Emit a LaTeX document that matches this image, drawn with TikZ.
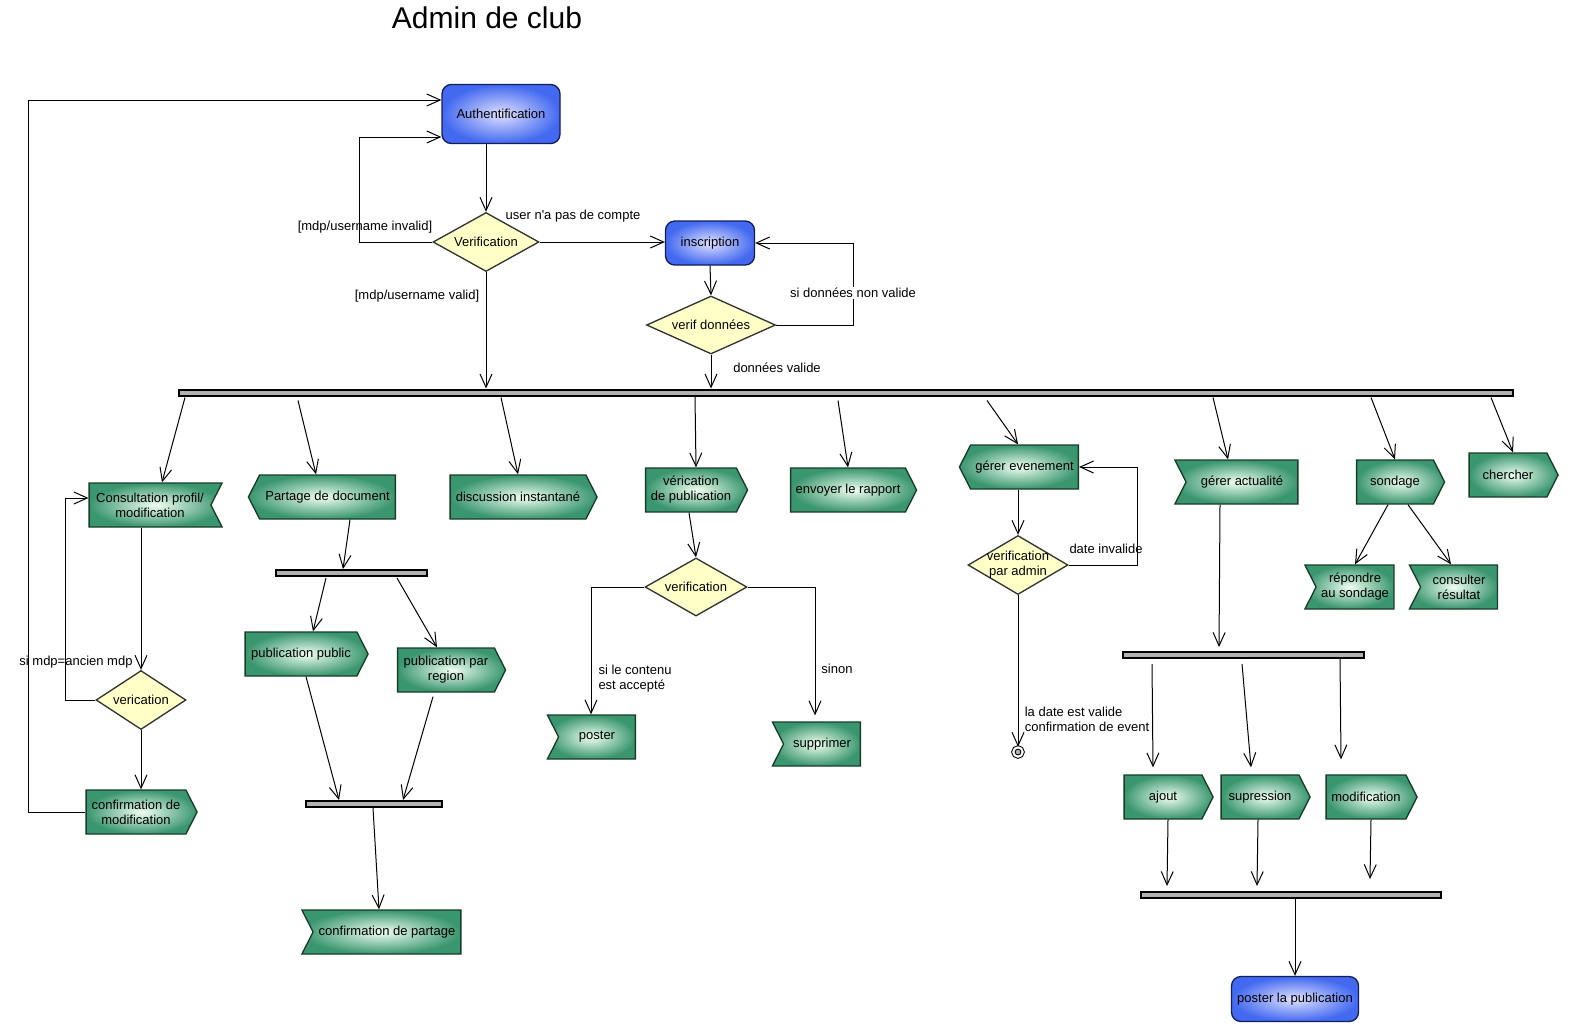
\documentclass[tikz,border=0pt]{standalone}
\usepackage{fontspec}
\setmainfont{Liberation Sans}
\usepackage{xcolor}
\usetikzlibrary{shapes.geometric,shapes.symbols,arrows.meta,calc}

\definecolor{actblue}{RGB}{66,105,240}
\definecolor{actnavy}{RGB}{20,30,90}
\definecolor{actgreen}{RGB}{58,150,110}
\definecolor{actdark}{RGB}{25,60,40}
\definecolor{decyellow}{RGB}{255,255,200}

\begin{document}
\begin{tikzpicture}[x=0.75pt, y=-0.75pt, line width=0.75pt, >={Straight Barb[length=10pt,width=9pt]},
    every node/.style={font=\fontsize{9.75}{11.25}\selectfont, align=center},
    startact/.style={rectangle, rounded corners=7pt, draw=actnavy, line width=1pt, inner color=blue!12, outer color=actblue},
    act/.style={signal, signal pointer angle=126, draw=actdark, line width=1pt, inner color=green!6!white, outer color=actgreen, minimum height=33pt, inner sep=2pt},
    sendsig/.style={act, signal to=east},
    recvsig/.style={act, signal to=nowhere, signal from=west},
    backsig/.style={act, signal to=west},
    notchsig/.style={act, signal to=nowhere, signal from=east},
    decision/.style={diamond, draw=black!80, line width=1pt, fill=decyellow, inner sep=0pt},
    forkbar/.style={rectangle, draw=black, line width=1.5pt, inner sep=0pt, minimum height=4.5pt, fill=gray!60},
    finalnode/.style={circle, draw=black, fill=gray!60, minimum size=7pt, inner sep=0pt, double=white, double distance=1.6pt},
    lbl/.style={inner sep=1pt}]
    \useasboundingbox (0,0) rectangle (1569,1033);

    \node[font=\fontsize{22.5}{27}\selectfont] (title) at (487,18) {Admin de club};

    \node[startact, minimum width=88.5pt, minimum height=44.25pt] (auth) at (501,114) {Authentification};
    \node[decision, shape aspect=1.8, minimum width=79.5pt, minimum height=44.25pt] (verif) at (486,242) {Verification};
    \node[startact, minimum width=66.75pt, minimum height=33pt] (inscr) at (710,243) {inscription};
    \node[decision, shape aspect=2.2, minimum width=96.75pt, minimum height=43.5pt] (verifdon) at (711,325) {verif données};
    \node[forkbar, minimum width=1000.5pt] (forkA) at (846,392.5) {};

    \node[notchsig, minimum width=99.75pt] (consult) at (150,505) {Consultation profil/\\modification};
    \node[backsig, minimum width=110.25pt] (partage) at (327.5,497) {Partage de document};
    \node[sendsig, minimum width=110.25pt] (discu) at (518,497) {discussion instantané};
    \node[sendsig, minimum width=76.5pt] (verpub) at (691,490) {vérication\\de publication};
    \node[sendsig, minimum width=94.5pt] (rapport) at (848,490) {envoyer le rapport};
    \node[backsig, minimum width=89.25pt] (evt) at (1024.5,467) {gérer evenement};
    \node[recvsig, minimum width=92.25pt] (actu) at (1242,482) {gérer actualité};
    \node[sendsig, minimum width=66pt] (sondage) at (1395,482) {sondage};
    \node[sendsig, minimum width=66.75pt] (chercher) at (1508,475) {chercher};

    \node[decision, shape aspect=1.5, minimum width=67.5pt, minimum height=44.25pt] (vericat) at (141,700) {verication};
    \node[sendsig, minimum width=83.25pt] (confmod) at (136,812) {confirmation de\\modification};

    \node[forkbar, minimum width=113.25pt] (forkB) at (351.5,573) {};
    \node[sendsig, minimum width=92.25pt] (pubpublic) at (301,654) {publication public};
    \node[sendsig, minimum width=81pt] (pubregion) at (446,670) {publication par\\region};
    \node[forkbar, minimum width=102pt] (forkC) at (374,804) {};
    \node[recvsig, minimum width=119.25pt] (confpart) at (387,932) {confirmation de partage};

    \node[decision, shape aspect=1.75, minimum width=76.5pt, minimum height=43.5pt] (vpub) at (696,587) {verification};
    \node[recvsig, minimum width=66pt] (poster) at (597,737) {poster};
    \node[recvsig, minimum width=66pt] (suppr) at (822,744) {supprimer};

    \node[decision, shape aspect=1.7, minimum width=75pt, minimum height=44.25pt, inner sep=-4pt] (vadmin) at (1018,565) {verification\\par admin};
    \node[finalnode] (fin) at (1018,752) {};

    \node[forkbar, minimum width=180.75pt] (forkD) at (1243.5,655) {};
    \node[sendsig, minimum width=66.75pt] (ajout) at (1163,797) {ajout};
    \node[sendsig, minimum width=66.75pt] (supr) at (1260,797) {supression};
    \node[sendsig, minimum width=68.25pt] (modif) at (1366,797) {modification};
    \node[forkbar, minimum width=225pt] (forkE) at (1291,895) {};
    \node[startact, minimum width=95.25pt, minimum height=33.75pt] (pubpost) at (1295,999) {poster la publication};

    \node[recvsig, minimum width=66.75pt] (repondre) at (1355,587) {répondre\\au sondage};
    \node[recvsig, minimum width=66pt] (consulter) at (1459,587) {consulter\\résultat};

    \draw[->] (auth.south -| verif) -- (verif.north);
    \draw[->] (verif.west) -- ++(-73,0) |- ($(auth.west)+(0,23)$);
    \draw[->] (verif.east) -- (verif.east -| inscr.west);
    \draw[->] (verif.south) -- (verif.south |- forkA.north);
    \draw[->] (inscr.south) -- (verifdon.north);
    \draw[->] (verifdon.south) -- (verifdon.south |- forkA.north);
    \draw[->] (confmod.west) -- ++(-57,0) |- ($(auth.west)+(0,-14)$);

    \node[lbl] (linvalid) at (365,227) {[mdp/username invalid]};
    \node[lbl] (lcompte) at (573,216) {user n\textquotesingle a pas de compte};
    \node[lbl] (lvalid) at (417,296) {[mdp/username valid]};
    \node[lbl] (ldonval) at (777,368) {données valide};
    \draw[->] (verifdon.east) -- ++(77,0) |- (inscr.east);
    \node[lbl, fill=white] (lnonval) at (853,293) {si données non valide};

    \draw[->] ($(forkA.south west)+(7,1)$) -- ($(consult.north)+(12,0)$);
    \draw[->] ($(forkA.south west)+(120,4)$) -- ($(partage.north)+(-11.5,0)$);
    \draw[->] ($(forkA.south west)+(323,1)$) -- (discu.north);
    \draw[->] ($(forkA.south west)+(517,0)$) -- ($(verpub.north)+(5,0)$);
    \draw[->] ($(forkA.south west)+(660,4)$) -- (rapport.north);
    \draw[->] ($(forkA.south west)+(809,4)$) -- ($(evt.north)+(-6.5,0)$);
    \draw[->] ($(forkA.south west)+(1035,1)$) -- ($(actu.north)+(-14,0)$);
    \draw[->] ($(forkA.south west)+(1193,1)$) -- (sondage.north);
    \draw[->] ($(forkA.south west)+(1313,1)$) -- ($(chercher.north)+(5,0)$);

    \draw[->] ($(consult.south)+(-9,0)$) -- (vericat.north);
    \draw[->] (vericat.west) -- ++(-30,0) |- ($(consult.west)+(0,-7)$);
    \draw[->] (vericat.south) -- (vericat.south |- confmod.north);
    \node[lbl] (lancien) at (76,662) {si mdp=ancien mdp};

    \draw[->] ($(partage.south)+(22.5,0)$) -- ($(forkB.north west)+(68,0)$);
    \draw[->] ($(forkB.south west)+(51,1)$) -- ($(pubpublic.north)+(12,0)$);
    \draw[->] ($(forkB.south west)+(122,1)$) -- ($(pubregion.north)+(-9,0)$);
    \draw[->] ($(pubpublic.south)+(5,0)$) -- ($(forkC.north west)+(34,0)$);
    \draw[->] ($(pubregion.south)+(-13,4)$) -- ($(forkC.north west)+(98,0)$);
    \draw[->] ($(forkC.south west)+(68,0)$) -- ($(confpart.north)+(-8,0)$);

    \draw[->] ($(verpub.south)+(-2,0)$) -- (vpub.north);
    \draw[->] (vpub.west) -| ($(poster.north)+(-6,0)$);
    \draw[->] (vpub.east) -| ($(suppr.north)+(-7,-6)$);
    \node[lbl, align=left] (laccepte) at (635,679) {si le contenu\\est accepté};
    \node[lbl] (lsinon) at (837,669) {sinon};

    \draw[->] (evt.south -| vadmin) -- (vadmin.north);
    \draw[->] (vadmin.east) -- ++(69,0) |- (evt.east);
    \draw[->] (vadmin.south) -- (fin.north);
    \node[lbl] (linvdate) at (1106,549) {date invalide};
    \node[lbl, align=left, anchor=west] (lvaldate) at (1023,719) {la date est valide\\confirmation de event};

    \draw[->] ($(actu.south)+(-22,0)$) -- ($(forkD.north west)+(97,-4)$);
    \draw[->] ($(forkD.south west)+(30,5)$) -- ($(ajout.north)+(-10,-7)$);
    \draw[->] ($(forkD.south west)+(120,5)$) -- ($(supr.north)+(-9,-7)$);
    \draw[->] ($(forkD.south west)+(218,0)$) -- ($(modif.north)+(-25,-15)$);
    \draw[->] ($(ajout.south)+(5,0)$) -- ($(forkE.north west)+(27,-5)$);
    \draw[->] ($(supr.south)+(-2,0)$) -- ($(forkE.north west)+(117,-5)$);
    \draw[->] ($(modif.south)+(5,0)$) -- ($(forkE.north west)+(230,-12)$);
    \draw[->] ($(forkE.south west)+(155,0)$) -- (pubpost.north);

    \draw[->] ($(sondage.south)+(-7,0)$) -- (repondre.north);
    \draw[->] ($(sondage.south)+(13,0)$) -- ($(consulter.north)+(-8,0)$);
\end{tikzpicture}
\end{document}
